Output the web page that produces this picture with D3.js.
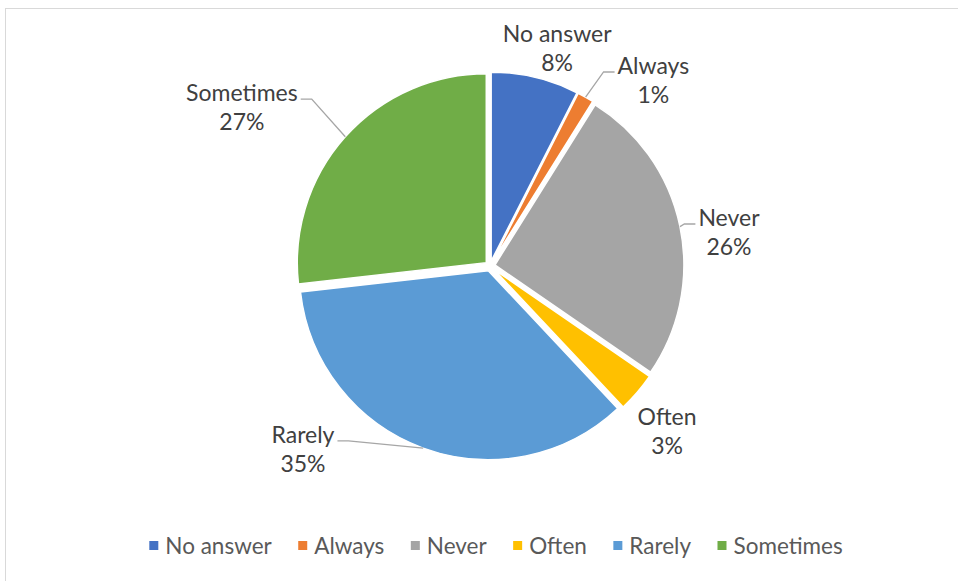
<!DOCTYPE html>
<html>
<head>
<meta charset="utf-8">
<script src="https://cdn.jsdelivr.net/npm/d3@7/dist/d3.min.js"></script>
<style>
  body { margin: 0; background: #fff; }
  text { font-family: Lato, "Liberation Sans", sans-serif; }
</style>
</head>
<body>
<script>
// chart data
var categories = ["No answer", "Always", "Never", "Often", "Rarely", "Sometimes"];
var shares = [7.5, 1.4, 25.7, 3.4, 35.2, 26.8];
var colors = ["#4472C4", "#ED7D31", "#A5A5A5", "#FFC000", "#5B9BD5", "#70AD47"];

// label placement (angle from 12 o'clock in degrees, distance as multiple of radius)
var labelAngle = [16.7, 40.4, 80.5, 131.9, 226.6, 303.6];
var labelDist = [1.237, 1.334, 1.282, 1.259, 1.362, 1.576];
var hasLeader = [false, true, true, false, true, true];

var svgWidth = 958;
var svgHeight = 581;
var cx = 490, cy = 266;
var radius = 189;
var explode = 5;
var fontSize = 23;
var lineGap = 29;

var svg = d3.select("body")
    .append("svg")
    .attr("width", svgWidth)
    .attr("height", svgHeight);

// chart frame
svg.append("rect")
    .attr("x", 5.5)
    .attr("y", 8.5)
    .attr("width", 960)
    .attr("height", 590)
    .attr("fill", "#fff")
    .attr("stroke", "#d9d9d9")
    .attr("stroke-width", 1);

var pie = d3.pie().sort(null).value(d => d);
var arcs = pie(shares);
var totalShare = d3.sum(shares);

var arc = d3.arc().innerRadius(0).outerRadius(radius);

var pieGroup = svg.append("g")
    .attr("transform", `translate(${cx}, ${cy})`);

function midAngle(d) { return (d.startAngle + d.endAngle) / 2; }

pieGroup.selectAll("path")
    .data(arcs)
    .enter()
    .append("path")
    .attr("d", arc)
    .attr("transform", function(d) {
        var a = midAngle(d);
        return `translate(${Math.sin(a) * explode}, ${-Math.cos(a) * explode})`;
    })
    .attr("fill", (d, i) => colors[i])
    .attr("stroke", "#fff")
    .attr("stroke-width", 1.5);

// data labels
var labelGroup = svg.append("g").attr("transform", `translate(${cx}, ${cy})`);

arcs.forEach(function(d, i) {
    var a = labelAngle[i] * Math.PI / 180;
    var r = labelDist[i] * radius;
    var lx = Math.sin(a) * r;
    var ly = -Math.cos(a) * r;

    var t = labelGroup.append("text")
        .attr("text-anchor", "middle")
        .attr("font-size", fontSize)
        .attr("fill", "#404040");
    var first = t.append("tspan")
        .attr("x", lx)
        .attr("y", ly)
        .text(categories[i]);
    t.append("tspan")
        .attr("x", lx)
        .attr("y", ly + lineGap)
        .text(Math.round(d.value / totalShare * 100) + "%");

    if (hasLeader[i]) {
        var w = first.node().getComputedTextLength();
        var m = midAngle(d);
        var ex = Math.sin(m) * (radius + explode);
        var ey = -Math.cos(m) * (radius + explode);
        var side = lx > ex ? -1 : 1;
        var sx = lx + side * (w / 2 + 3);
        var sy = ly - 2;
        var kx = sx + side * 11;
        if (side < 0 && kx < ex) kx = ex;
        if (side > 0 && kx > ex) kx = ex;
        labelGroup.append("polyline")
            .attr("points", [[sx, sy], [kx, sy], [ex, ey]].map(p => p.join(",")).join(" "))
            .attr("fill", "none")
            .attr("stroke", "#a6a6a6")
            .attr("stroke-width", 1.3);
    }
});

// legend
var legend = svg.append("g");
var legendY = 546;
var legendGap = 26.5;
var items = legend.selectAll("g")
    .data(categories)
    .enter()
    .append("g");

items.append("rect")
    .attr("width", 9)
    .attr("height", 9)
    .attr("y", legendY - 5)
    .attr("fill", (d, i) => colors[i]);

items.append("text")
    .attr("x", 16)
    .attr("y", legendY + 8)
    .attr("font-size", 22.5)
    .attr("fill", "#595959")
    .text(d => d);

var xPos = 0;
var offsets = [];
items.each(function() {
    offsets.push(xPos);
    var tw = d3.select(this).select("text").node().getComputedTextLength();
    xPos += 16 + tw + legendGap;
});
var legendWidth = xPos - legendGap;
var legendStart = 496 - legendWidth / 2;
items.attr("transform", (d, i) => `translate(${legendStart + offsets[i]}, 0)`);
</script>
</body>
</html>
